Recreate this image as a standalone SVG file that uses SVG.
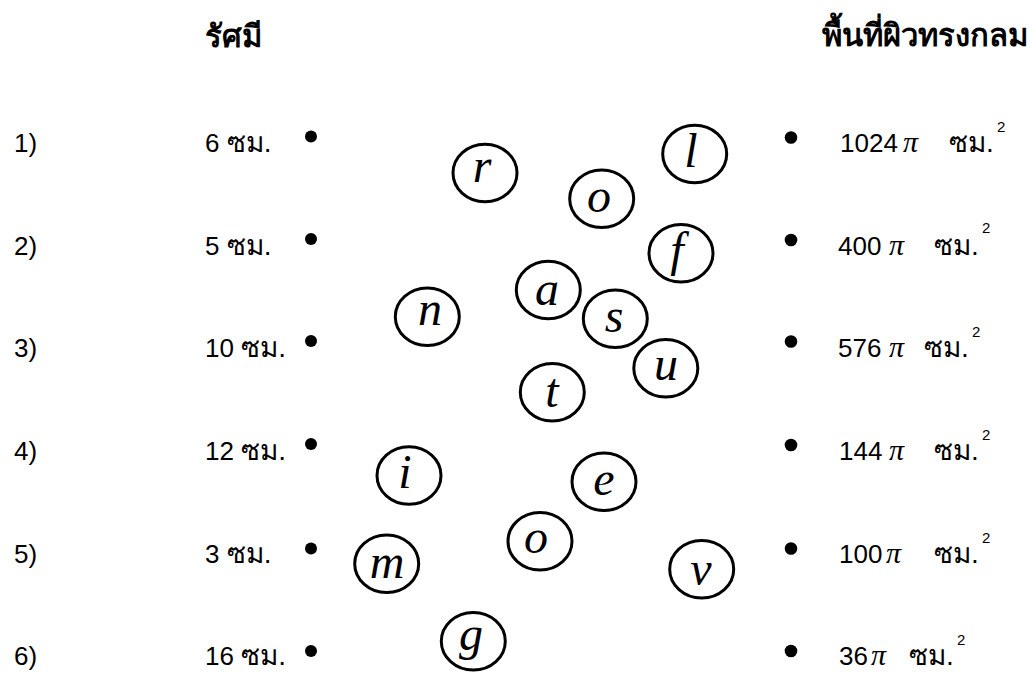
<svg xmlns="http://www.w3.org/2000/svg" width="1034" height="673" viewBox="0 0 1034 673">
<style>
.t{font-family:"Liberation Sans","DejaVu Sans",sans-serif;font-size:26px;fill:#000}
.th{font-size:28px}
.h{font-family:"Liberation Sans","DejaVu Sans",sans-serif;font-size:31px;font-weight:bold;fill:#000}
.pi{font-family:"Liberation Serif","DejaVu Serif",serif;font-style:italic;font-size:30px;fill:#000}
.sup{font-family:"Liberation Sans","DejaVu Sans",sans-serif;font-size:15px;fill:#000}
.c{fill:#fff;stroke:#000;stroke-width:3}
.l{font-family:"Liberation Serif","DejaVu Serif",serif;font-style:italic;font-size:48px;fill:#000;text-anchor:middle}
.b{fill:#000}
</style>
<rect width="1034" height="673" fill="#fff"/>
<g id="headers">
<text class="h" x="205" y="47">รัศมี</text>
<text class="h" x="822" y="46">พื้นที่ผิวทรงกลม</text>
</g>
<g id="left-1"><text class="t" x="14" y="152">1)</text><text class="t" x="205" y="152">6 <tspan class="th">ซม.</tspan></text><circle class="b" cx="311" cy="136.5" r="6"/></g>
<g id="left-2"><text class="t" x="14" y="255">2)</text><text class="t" x="205" y="255">5 <tspan class="th">ซม.</tspan></text><circle class="b" cx="311" cy="239" r="6"/></g>
<g id="left-3"><text class="t" x="14" y="357">3)</text><text class="t" x="205" y="357">10 <tspan class="th">ซม.</tspan></text><circle class="b" cx="311" cy="341" r="6"/></g>
<g id="left-4"><text class="t" x="14" y="460">4)</text><text class="t" x="205" y="460">12 <tspan class="th">ซม.</tspan></text><circle class="b" cx="311" cy="444" r="6"/></g>
<g id="left-5"><text class="t" x="14" y="563">5)</text><text class="t" x="205" y="563">3 <tspan class="th">ซม.</tspan></text><circle class="b" cx="311" cy="548.5" r="6"/></g>
<g id="left-6"><text class="t" x="14" y="665">6)</text><text class="t" x="205" y="665">16 <tspan class="th">ซม.</tspan></text><circle class="b" cx="311" cy="651" r="6"/></g>
<g id="right-1"><circle class="b" cx="791" cy="137.5" r="6.3"/><text class="t" x="840" y="152">1024</text><text class="pi" x="903" y="152">π</text><text class="t th" x="949" y="152">ซม.</text><text class="sup" x="997" y="132">2</text></g>
<g id="right-2"><circle class="b" cx="791" cy="240" r="6.3"/><text class="t" x="838" y="255">400</text><text class="pi" x="889" y="255">π</text><text class="t th" x="934" y="255">ซม.</text><text class="sup" x="982" y="233">2</text></g>
<g id="right-3"><circle class="b" cx="791" cy="341.5" r="6.3"/><text class="t" x="838" y="357">576</text><text class="pi" x="889" y="357">π</text><text class="t th" x="924" y="357">ซม.</text><text class="sup" x="972" y="336.5">2</text></g>
<g id="right-4"><circle class="b" cx="791" cy="445" r="6.3"/><text class="t" x="839" y="460">144</text><text class="pi" x="889" y="460">π</text><text class="t th" x="934" y="460">ซม.</text><text class="sup" x="982" y="440">2</text></g>
<g id="right-5"><circle class="b" cx="791" cy="548.5" r="6.3"/><text class="t" x="839" y="563">100</text><text class="pi" x="886" y="563">π</text><text class="t th" x="934" y="563">ซม.</text><text class="sup" x="982" y="543">2</text></g>
<g id="right-6"><circle class="b" cx="791" cy="651" r="6.3"/><text class="t" x="839" y="665">36</text><text class="pi" x="871" y="665">π</text><text class="t th" x="909" y="665">ซม.</text><text class="sup" x="957" y="645">2</text></g>
<g id="connectors"></g>
<g id="node-r"><ellipse class="c" cx="485" cy="173" rx="32" ry="28.8"/><text class="l" x="482" y="182">r</text></g>
<g id="node-o1"><ellipse class="c" cx="601.7" cy="198.8" rx="32" ry="28.8"/><text class="l" x="599" y="212">o</text></g>
<g id="node-l"><ellipse class="c" cx="694.7" cy="154" rx="32" ry="28.8"/><text class="l" x="691" y="167">l</text></g>
<g id="node-f"><ellipse class="c" cx="681" cy="253.3" rx="32" ry="28.8"/><text class="l" x="677" y="266">f</text></g>
<g id="node-a"><ellipse class="c" cx="548.3" cy="290" rx="32" ry="28.8"/><text class="l" x="547" y="305">a</text></g>
<g id="node-n"><ellipse class="c" cx="427.3" cy="316.7" rx="32" ry="28.8"/><text class="l" x="430" y="325">n</text></g>
<g id="node-s"><ellipse class="c" cx="615.3" cy="318.8" rx="32" ry="28.8"/><text class="l" x="614" y="332">s</text></g>
<g id="node-u"><ellipse class="c" cx="665.8" cy="368.3" rx="32" ry="28.8"/><text class="l" x="666" y="380">u</text></g>
<g id="node-t"><ellipse class="c" cx="552.3" cy="392.2" rx="32" ry="28.8"/><text class="l" x="552" y="407">t</text></g>
<g id="node-i"><ellipse class="c" cx="409" cy="475.5" rx="32" ry="28.8"/><text class="l" x="405" y="488">i</text></g>
<g id="node-e"><ellipse class="c" cx="604" cy="481.7" rx="32" ry="28.8"/><text class="l" x="604" y="495">e</text></g>
<g id="node-o2"><ellipse class="c" cx="540" cy="541.3" rx="32" ry="28.8"/><text class="l" x="536" y="553">o</text></g>
<g id="node-m"><ellipse class="c" cx="386.7" cy="563.7" rx="32" ry="28.8"/><text class="l" x="387" y="578">m</text></g>
<g id="node-v"><ellipse class="c" cx="701.7" cy="569.3" rx="32" ry="28.8"/><text class="l" x="701" y="585">v</text></g>
<g id="node-g"><ellipse class="c" cx="473.3" cy="641.3" rx="32" ry="28.8"/><text class="l" x="471" y="650">g</text></g>
</svg>
